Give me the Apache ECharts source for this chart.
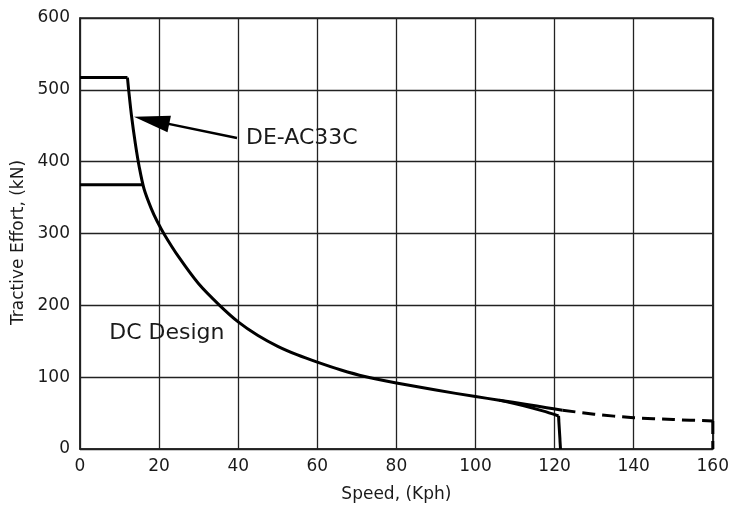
<!DOCTYPE html>
<html><head><meta charset="utf-8">
<script src="https://cdn.jsdelivr.net/npm/echarts@6/dist/echarts.min.js"></script>
<style>html,body{margin:0;padding:0;background:#fff}#c{width:732px;height:508px}</style>
</head><body><div id="c"></div>
<script>
// DE-AC33C: flat top
const speedACFlat  = [0, 12];
const effortACFlat = [517, 517];
// DE-AC33C: solid curve
const speedAC  = [12, 12.3, 13, 14, 15, 16.2, 18, 19.5, 21.4, 25, 30, 35.3, 40, 45, 50, 55, 60, 66, 72, 80, 90, 100, 106, 113, 118, 122];
const effortAC = [517, 500, 465, 425, 392, 362, 335, 317, 298, 267, 230, 200, 177, 158, 143, 131, 121, 110, 101, 92, 82, 73, 68, 62, 57.5, 54];
// DE-AC33C: dashed extension and end drop
const speedDash  = [122, 130, 140, 150, 160];
const effortDash = [54, 48.5, 43.5, 41, 39];
const speedDashDrop  = [160, 160];
const effortDashDrop = [39, 0];
// DC design: flat start, tail that leaves the shared curve, end drop
const speedDCFlat  = [0, 15.8];
const effortDCFlat = [368, 368];
const speedDCTail  = [106, 112, 117, 121];
const effortDCTail = [68, 60.5, 53, 46];
const speedDCDrop  = [121, 121.5, 121.5];
const effortDCDrop = [46, 46, 0];
// axis ticks
const xTicks = [0, 20, 40, 60, 80, 100, 120, 140, 160];
const yTicks = [0, 100, 200, 300, 400, 500, 600];
// annotation anchors (arrow tail, arrow-head centre, label)
const arrowTail = [39.7, 433];
const arrowHeadCentre = [18.1, 457.5];
const dcLabelAt = [7.4, 161];

const zip = (a, b) => a.map((v, i) => [v, b[i]]);
const font = '"DejaVu Sans", Verdana, sans-serif';
const ink = '#1a1a1a';
const line = (name, data, smooth, dashed) => ({
  name, type: 'line', data, showSymbol: false, smooth: smooth ? 0.3 : false,
  lineStyle: {color: '#000', width: 3, type: dashed ? [13, 7] : 'solid', cap: 'butt', join: 'round'}
});

const chart = echarts.init(document.getElementById('c'), null, {renderer: 'canvas'});
const acCurve = line('DE-AC33C', zip(speedAC, effortAC), true, false);
acCurve.markLine = {
  silent: true, symbol: ['none', 'triangle'], symbolSize: [17, 36],
  label: {show: false},
  lineStyle: {color: '#000', width: 2.5, type: 'solid'},
  data: [[{coord: arrowTail}, {coord: arrowHeadCentre}]]
};
acCurve.markPoint = {
  silent: true, symbol: 'circle', symbolSize: 0,
  data: [
    {coord: arrowTail, label: {show: true, position: 'right', distance: 9, formatter: 'DE-AC33C', fontFamily: font, fontSize: 22, color: ink}},
    {coord: dcLabelAt, label: {show: true, position: 'right', distance: 0, formatter: 'DC Design', fontFamily: font, fontSize: 22, color: ink}}
  ]
};

chart.setOption({
  animation: false,
  backgroundColor: '#fff',
  grid: {left: 80, right: 17, top: 18, bottom: 58, show: true, borderColor: '#222', borderWidth: 1.5},
  xAxis: {
    type: 'value', min: xTicks[0], max: xTicks[xTicks.length - 1], interval: 20,
    name: 'Speed, (Kph)', nameLocation: 'middle', nameGap: 37,
    nameTextStyle: {fontFamily: font, fontSize: 17, color: ink},
    axisLine: {show: true, lineStyle: {color: '#222', width: 1.5}},
    axisTick: {show: false},
    axisLabel: {fontFamily: font, fontSize: 17, color: ink, margin: 9},
    splitLine: {show: true, lineStyle: {color: '#222', width: 1.3}}
  },
  yAxis: {
    type: 'value', min: yTicks[0], max: yTicks[yTicks.length - 1], interval: 100,
    name: 'Tractive Effort, (kN)', nameLocation: 'middle', nameGap: 50,
    nameTextStyle: {fontFamily: font, fontSize: 17, color: ink, padding: [0, 18, 0, 0]},
    axisLine: {show: true, lineStyle: {color: '#222', width: 1.5}},
    axisTick: {show: false},
    axisLabel: {fontFamily: font, fontSize: 17, color: ink, margin: 10},
    splitLine: {show: true, lineStyle: {color: '#222', width: 1.3}}
  },
  series: [
    line('DE-AC33C flat', zip(speedACFlat, effortACFlat), false, false),
    acCurve,
    line('DE-AC33C extension', zip(speedDash, effortDash), true, true),
    line('DE-AC33C extension end', zip(speedDashDrop, effortDashDrop), false, true),
    line('DC Design', zip(speedDCFlat, effortDCFlat), false, false),
    line('DC Design tail', zip(speedDCTail, effortDCTail), true, false),
    line('DC Design end', zip(speedDCDrop, effortDCDrop), false, false)
  ]
});
</script></body></html>
